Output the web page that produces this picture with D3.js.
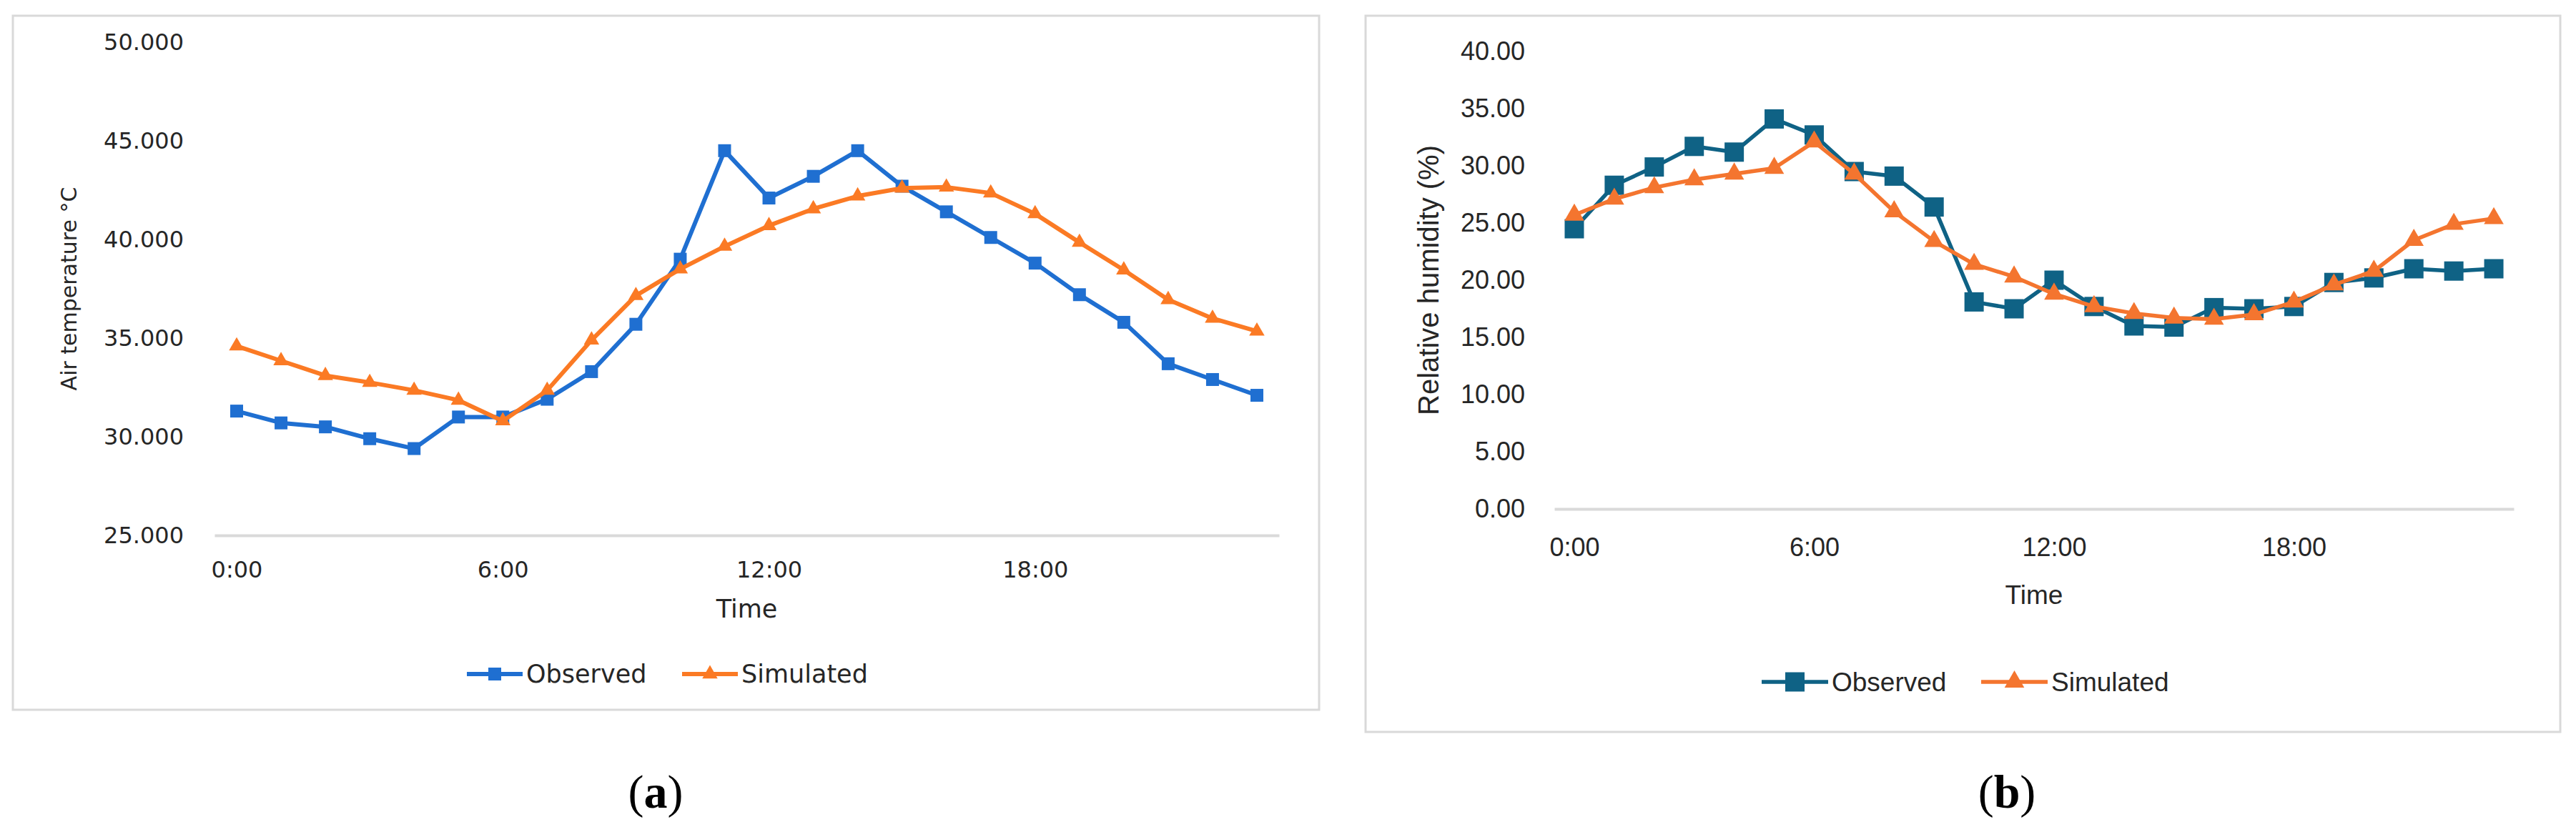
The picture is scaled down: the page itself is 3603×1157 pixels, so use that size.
<!DOCTYPE html>
<html>
<head>
<meta charset="utf-8">
<script src="https://cdn.jsdelivr.net/npm/d3@7"></script>
<style>
  html, body { margin: 0; padding: 0; background: #fff; }
  svg { display: block; }
</style>
</head>
<body>
<div class="figure"></div>
<script>
// hourly categories shared by both panels
const hours = [0, 1, 2, 3, 4, 5, 6, 7, 8, 9, 10, 11, 12, 13, 14, 15, 16, 17, 18, 19, 20, 21, 22, 23];
const hourTicks = [0, 6, 12, 18];
const hourTickLabels = ["0:00", "6:00", "12:00", "18:00"];

// (a) air temperature
const tempObserved = [31.3, 30.7, 30.5, 29.9, 29.4, 31.0, 31.0, 31.9, 33.3, 35.7, 39.0, 44.5,
                      42.1, 43.2, 44.5, 42.7, 41.4, 40.1, 38.8, 37.2, 35.8, 33.7, 32.9, 32.1];
const tempSimulated = [34.6, 33.85, 33.1, 32.75, 32.35, 31.85, 30.8, 32.35, 34.9, 37.15, 38.5, 39.65,
                       40.7, 41.55, 42.2, 42.6, 42.65, 42.35, 41.3, 39.85, 38.45, 36.95, 36.0, 35.35];
const tempTicks = [25, 30, 35, 40, 45, 50];

// (b) relative humidity
const rhObserved = [24.5, 28.3, 29.9, 31.7, 31.2, 34.1, 32.7, 29.5, 29.1, 26.4, 18.1, 17.5,
                    20.0, 17.7, 16.0, 15.9, 17.6, 17.5, 17.7, 19.8, 20.2, 21.0, 20.8, 21.0];
const rhSimulated = [25.7, 27.1, 28.1, 28.8, 29.3, 29.8, 32.1, 29.3, 26.0, 23.4, 21.4, 20.3,
                     18.8, 17.7, 17.1, 16.7, 16.6, 17.0, 18.1, 19.6, 20.8, 23.5, 24.9, 25.4];
const rhTicks = [0, 5, 10, 15, 20, 25, 30, 35, 40];

const seriesNames = ["Observed", "Simulated"];

const W = 3603, H = 1157;
const svg = d3.select(".figure").append("svg")
    .attr("width", W)
    .attr("height", H);

function drawPanel(cfg) {
    const g = svg.append("g");

    // chart frame
    g.append("rect")
        .attr("x", cfg.frame[0]).attr("y", cfg.frame[1])
        .attr("width", cfg.frame[2] - cfg.frame[0])
        .attr("height", cfg.frame[3] - cfg.frame[1])
        .attr("fill", "#fff")
        .attr("stroke", "#d9d9d9")
        .attr("stroke-width", 3);

    let x = d3.scalePoint()
        .domain(hours)
        .range([cfg.left, cfg.right])
        .padding(0.5);
    let y = d3.scaleLinear()
        .domain(cfg.domain)
        .range([cfg.bottom, cfg.top]);

    // y axis (labels only)
    let ya = g.append("g")
        .attr("transform", "translate(" + cfg.left + ",0)")
        .call(d3.axisLeft(y).tickValues(cfg.yTicks).tickSize(0)
            .tickPadding(cfg.left - cfg.labelRight).tickFormat(d3.format(cfg.fmt)));
    ya.select(".domain").remove();
    ya.selectAll("text")
        .attr("font-family", cfg.font)
        .attr("font-size", cfg.tickSize)
        .attr("fill", "#262626");

    // x axis baseline + hour labels
    let xa = g.append("g")
        .attr("transform", "translate(0," + cfg.bottom + ")")
        .call(d3.axisBottom(x).tickValues(hourTicks).tickSize(0)
            .tickFormat((d, i) => hourTickLabels[i]));
    xa.select(".domain")
        .attr("stroke", "#d9d9d9")
        .attr("stroke-width", 4);
    xa.selectAll("text")
        .attr("y", cfg.xLabelY - cfg.bottom)
        .attr("dy", "0.35em")
        .attr("font-family", cfg.font)
        .attr("font-size", cfg.tickSize)
        .attr("fill", "#262626");

    // axis titles
    g.append("text")
        .attr("transform", "translate(" + cfg.yTitleX + "," + (cfg.top + cfg.bottom) / 2 + ")rotate(-90)")
        .attr("text-anchor", "middle")
        .attr("dy", "0.35em")
        .attr("font-family", cfg.font)
        .attr("font-size", cfg.yTitleSize)
        .attr("fill", "#262626")
        .text(cfg.yTitle);
    g.append("text")
        .attr("x", (cfg.left + cfg.right) / 2)
        .attr("y", cfg.xTitleY)
        .attr("text-anchor", "middle")
        .attr("dy", "0.35em")
        .attr("font-family", cfg.font)
        .attr("font-size", cfg.titleSize)
        .attr("fill", "#262626")
        .text("Time");

    let line = d3.line()
        .x((d, i) => x(hours[i]))
        .y(d => y(d));

    let symbols = [
        d3.symbol().type(d3.symbolSquare).size(cfg.squareSize),
        d3.symbol().type(d3.symbolTriangle).size(cfg.triSize)
    ];

    cfg.series.forEach((vals, k) => {
        g.append("path")
            .datum(vals)
            .attr("fill", "none")
            .attr("stroke", cfg.colors[k])
            .attr("stroke-width", cfg.lineWidth)
            .attr("stroke-linejoin", "round")
            .attr("d", line);
        g.selectAll(".pt" + k)
            .data(vals)
            .enter()
            .append("path")
            .attr("class", "pt" + k)
            .attr("transform", (d, i) => "translate(" + x(hours[i]) + "," + y(d) + ")")
            .attr("d", symbols[k])
            .attr("fill", cfg.colors[k]);
    });

    // legend
    seriesNames.forEach((name, k) => {
        let lx = cfg.legendX[k];
        let lg = g.append("g").attr("transform", "translate(0," + cfg.legendY + ")");
        lg.append("line")
            .attr("x1", lx).attr("x2", lx + cfg.legendLine)
            .attr("stroke", cfg.colors[k])
            .attr("stroke-width", cfg.lineWidth);
        lg.append("path")
            .attr("transform", "translate(" + (lx + cfg.legendLine / 2) + ",0)")
            .attr("d", symbols[k])
            .attr("fill", cfg.colors[k]);
        lg.append("text")
            .attr("x", lx + cfg.legendLine + 5)
            .attr("dy", "0.35em")
            .attr("font-family", cfg.font)
            .attr("font-size", cfg.titleSize)
            .attr("fill", "#262626")
            .text(name);
    });

    // panel letter
    svg.append("text")
        .attr("x", cfg.letterX)
        .attr("y", 1107)
        .attr("text-anchor", "middle")
        .attr("dy", "0.35em")
        .attr("font-family", "'Liberation Serif', 'Times New Roman', serif")
        .attr("font-size", 66)
        .attr("fill", "#000")
        .html("(<tspan font-weight='bold'>" + cfg.letter + "</tspan>)");
}

drawPanel({
    frame: [18, 22, 1845, 993],
    left: 300, right: 1789, top: 59, bottom: 749,
    domain: [25, 50], yTicks: tempTicks, fmt: ".3f",
    labelRight: 257,
    font: "'DejaVu Sans', sans-serif",
    tickSize: 32, titleSize: 35, yTitleSize: 30,
    xLabelY: 797, xTitleY: 852, yTitleX: 96,
    yTitle: "Air temperature °C",
    series: [tempObserved, tempSimulated],
    colors: ["#1f6fd1", "#fb7a24"],
    lineWidth: 6, squareSize: 324, triSize: 200,
    legendY: 943, legendX: [653, 954], legendLine: 78,
    letterX: 917, letter: "a"
});

drawPanel({
    frame: [1910, 22, 3581, 1024],
    left: 2174, right: 3516, top: 72, bottom: 712,
    domain: [0, 40], yTicks: rhTicks, fmt: ".2f",
    labelRight: 2133,
    font: "'Liberation Sans', Arial, sans-serif",
    tickSize: 36, titleSize: 37, yTitleSize: 40,
    xLabelY: 765, xTitleY: 832, yTitleX: 1998,
    yTitle: "Relative humidity (%)",
    series: [rhObserved, rhSimulated],
    colors: ["#0f6285", "#f4752f"],
    lineWidth: 5.5, squareSize: 729, triSize: 330,
    legendY: 954, legendX: [2464, 2771], legendLine: 93,
    letterX: 2807, letter: "b"
});
</script>
</body>
</html>
